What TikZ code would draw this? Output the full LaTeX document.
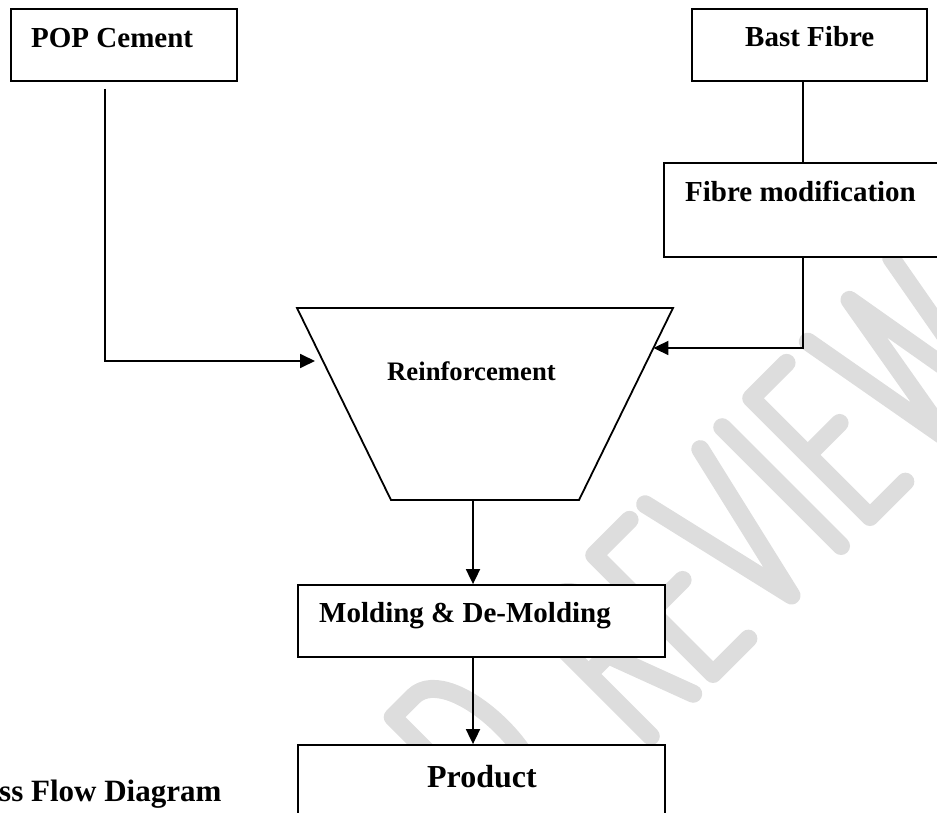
\documentclass[tikz,border=0pt]{standalone}
\usepackage{fontspec}
\setmainfont{Liberation Serif}
\usetikzlibrary{arrows.meta,calc}

\definecolor{wmgray}{RGB}{221,221,221}

\tikzset{
  box/.style={draw=black, line width=1.8pt, fill=white, inner sep=0pt},
  lbl/.style={inner sep=0pt, font=\bfseries\fontsize{29}{34}\selectfont},
  flow/.style={line width=1.8pt, -{Triangle[length=15pt,width=14pt]}},
  plain/.style={line width=1.8pt},
  wm/.style={draw=wmgray, line width=18pt, line cap=round, line join=round}
}

\begin{document}
\begin{tikzpicture}[x=1pt,y=-1pt]
  \useasboundingbox (0,0) rectangle (937,813);

  % faint diagonal watermark, stroked letter by letter
  \begin{scope}[shift={(870,517)}, x=1pt, y=1pt, rotate=45]
    % D
    \draw[wm] (-479,28) -- (-479,196) -- (-450,196) .. controls (-395,196) and (-395,28) .. (-450,28) -- cycle;
    % R
    \draw[wm] (-310,0) -- (-310,168) -- (-285,168) .. controls (-245,168) and (-245,88) .. (-285,88) -- (-310,88);
    \draw[wm] (-283,88) -- (-250,0);
    % E
    \draw[wm] (-172,168) -- (-222,168) -- (-222,0) -- (-172,0);
    \draw[wm] (-222,88) -- (-177,88);
    % V
    \draw[wm] (-150,168) -- (-111,0) -- (-72,168);
    % I
    \draw[wm] (-41,0) -- (-41,168);
    % E
    \draw[wm] (50,168) -- (0,168) -- (0,0) -- (50,0);
    \draw[wm] (0,88) -- (45,88);
    % W
    \draw[wm] (80,168) -- (110,0) -- (139,168) -- (168,0) -- (198,168);
  \end{scope}

  % boxes
  \node[box, minimum width=226pt, minimum height=72pt] (pop) at (124,45) {};
  \node[lbl, anchor=base west] (popt) at (31,48) {POP Cement};

  \node[box, minimum width=235pt, minimum height=72pt] (bast) at (809.5,45) {};
  \node[lbl, anchor=base west] (bastt) at (745,47) {Bast Fibre};

  \node[box, minimum width=280pt, minimum height=94pt] (mod) at (804,210) {};
  \node[lbl, anchor=base west] (modt) at (685,202) {Fibre modification};

  % hopper-shaped mixing stage
  \coordinate (tl) at (297,308);
  \coordinate (tr) at (673,308);
  \coordinate (br) at (579,500);
  \coordinate (bl) at (391,500);
  \draw[plain, fill=white, line join=miter] (tl) -- (tr) -- (br) -- (bl) -- cycle;
  \node[lbl, font=\bfseries\fontsize{26.7}{31}\selectfont, anchor=base west] (reinf) at (387,380) {Reinforcement};
  \coordinate (hopout) at (473,500);
  \coordinate (inL) at (315,361);
  \coordinate (inR) at ($(tr)!0.2083!(br)$);

  \node[box, minimum width=367pt, minimum height=72pt] (mold) at (481.5,621) {};
  \node[lbl, anchor=base west] (moldt) at (319,622) {Molding \& De-Molding};

  \node[box, minimum width=367pt, minimum height=110pt] (prod) at (481.5,800) {};
  \node[lbl, font=\bfseries\fontsize{32}{38}\selectfont, anchor=base] (prodt) at (482,787) {Product};

  \node[lbl, font=\bfseries\fontsize{31}{37}\selectfont, anchor=base west] (title) at (-1,801) {ss Flow Diagram};

  % connectors
  \coordinate (popdrop) at ([xshift=-19pt,yshift=-7pt]pop.south);
  \draw[flow] (popdrop) |- (inL);
  \draw[plain] (bast.south -| 803,0) -- (mod.north -| 803,0);
  \draw[flow] (mod.south -| 803,0) |- (inR);
  \draw[flow] (hopout) -- (mold.north -| hopout);
  \draw[flow] (mold.south -| hopout) -- (prod.north -| hopout);
\end{tikzpicture}
\end{document}
